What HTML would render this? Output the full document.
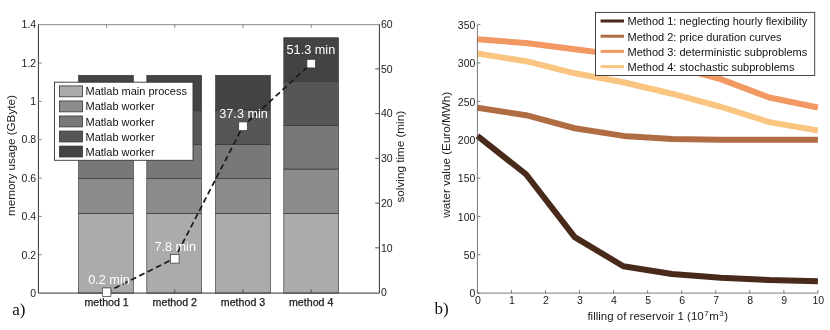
<!DOCTYPE html>
<html><head><meta charset="utf-8"><title>figure</title>
<style>html,body{margin:0;padding:0;background:#fff;}body{width:830px;height:330px;position:relative;overflow:hidden;font-family:"Liberation Sans",sans-serif;}</style></head>
<body>
<svg width="830" height="330" viewBox="0 0 830 330" style="position:absolute;left:0;top:0;will-change:transform" font-family="Liberation Sans, sans-serif">
<rect width="830" height="330" fill="#fff"/>
<rect x="78.60" y="213.35" width="54.80" height="79.75" fill="#aaacaa" stroke="#333" stroke-width="0.65"/>
<rect x="78.60" y="178.65" width="54.80" height="34.70" fill="#8b8d8b" stroke="#333" stroke-width="0.65"/>
<rect x="78.60" y="144.52" width="54.80" height="34.13" fill="#777977" stroke="#333" stroke-width="0.65"/>
<rect x="78.60" y="110.01" width="54.80" height="34.51" fill="#565656" stroke="#333" stroke-width="0.65"/>
<rect x="78.60" y="75.31" width="54.80" height="34.70" fill="#434343" stroke="#333" stroke-width="0.65"/>
<rect x="146.80" y="213.35" width="54.80" height="79.75" fill="#aaacaa" stroke="#333" stroke-width="0.65"/>
<rect x="146.80" y="178.65" width="54.80" height="34.70" fill="#8b8d8b" stroke="#333" stroke-width="0.65"/>
<rect x="146.80" y="144.52" width="54.80" height="34.13" fill="#777977" stroke="#333" stroke-width="0.65"/>
<rect x="146.80" y="110.01" width="54.80" height="34.51" fill="#565656" stroke="#333" stroke-width="0.65"/>
<rect x="146.80" y="75.31" width="54.80" height="34.70" fill="#434343" stroke="#333" stroke-width="0.65"/>
<rect x="215.60" y="213.35" width="54.80" height="79.75" fill="#aaacaa" stroke="#333" stroke-width="0.65"/>
<rect x="215.60" y="178.65" width="54.80" height="34.70" fill="#8b8d8b" stroke="#333" stroke-width="0.65"/>
<rect x="215.60" y="144.52" width="54.80" height="34.13" fill="#777977" stroke="#333" stroke-width="0.65"/>
<rect x="215.60" y="110.01" width="54.80" height="34.51" fill="#565656" stroke="#333" stroke-width="0.65"/>
<rect x="215.60" y="75.31" width="54.80" height="34.70" fill="#434343" stroke="#333" stroke-width="0.65"/>
<rect x="283.80" y="213.35" width="54.80" height="79.75" fill="#aaacaa" stroke="#333" stroke-width="0.65"/>
<rect x="283.80" y="169.06" width="54.80" height="44.29" fill="#8b8d8b" stroke="#333" stroke-width="0.65"/>
<rect x="283.80" y="125.35" width="54.80" height="43.71" fill="#777977" stroke="#333" stroke-width="0.65"/>
<rect x="283.80" y="81.45" width="54.80" height="43.90" fill="#565656" stroke="#333" stroke-width="0.65"/>
<rect x="283.80" y="37.74" width="54.80" height="43.71" fill="#434343" stroke="#333" stroke-width="0.65"/>
<line x1="38.4" x2="379.4" y1="24.7" y2="24.7" stroke="#6a6a6a" stroke-width="0.8"/>
<polyline points="38.4,24.3 38.4,293.1 379.4,293.1 379.4,24.3" fill="none" stroke="#333" stroke-width="1"/>
<text x="36.199999999999996" y="296.85" font-size="10.5" text-anchor="end" fill="#1a1a1a">0</text>
<line x1="38.4" x2="41.8" y1="254.76" y2="254.76" stroke="#666" stroke-width="0.8"/>
<text x="36.199999999999996" y="258.51" font-size="10.5" text-anchor="end" fill="#1a1a1a">0.2</text>
<line x1="38.4" x2="41.8" y1="216.41" y2="216.41" stroke="#666" stroke-width="0.8"/>
<text x="36.199999999999996" y="220.16" font-size="10.5" text-anchor="end" fill="#1a1a1a">0.4</text>
<line x1="38.4" x2="41.8" y1="178.07" y2="178.07" stroke="#666" stroke-width="0.8"/>
<text x="36.199999999999996" y="181.82" font-size="10.5" text-anchor="end" fill="#1a1a1a">0.6</text>
<line x1="38.4" x2="41.8" y1="139.73" y2="139.73" stroke="#666" stroke-width="0.8"/>
<text x="36.199999999999996" y="143.48" font-size="10.5" text-anchor="end" fill="#1a1a1a">0.8</text>
<line x1="38.4" x2="41.8" y1="101.39" y2="101.39" stroke="#666" stroke-width="0.8"/>
<text x="36.199999999999996" y="105.14" font-size="10.5" text-anchor="end" fill="#1a1a1a">1</text>
<line x1="38.4" x2="41.8" y1="63.04" y2="63.04" stroke="#666" stroke-width="0.8"/>
<text x="36.199999999999996" y="66.79" font-size="10.5" text-anchor="end" fill="#1a1a1a">1.2</text>
<text x="36.199999999999996" y="28.45" font-size="10.5" text-anchor="end" fill="#1a1a1a">1.4</text>
<text x="380.9" y="296.30" font-size="10.5" fill="#1a1a1a">0</text>
<line x1="379.4" x2="375.2" y1="247.82" y2="247.82" stroke="#444" stroke-width="0.9"/>
<text x="380.9" y="251.57" font-size="10.5" fill="#1a1a1a">10</text>
<line x1="379.4" x2="375.2" y1="203.08" y2="203.08" stroke="#444" stroke-width="0.9"/>
<text x="380.9" y="206.83" font-size="10.5" fill="#1a1a1a">20</text>
<line x1="379.4" x2="375.2" y1="158.35" y2="158.35" stroke="#444" stroke-width="0.9"/>
<text x="380.9" y="162.10" font-size="10.5" fill="#1a1a1a">30</text>
<line x1="379.4" x2="375.2" y1="113.62" y2="113.62" stroke="#444" stroke-width="0.9"/>
<text x="380.9" y="117.37" font-size="10.5" fill="#1a1a1a">40</text>
<line x1="379.4" x2="375.2" y1="68.88" y2="68.88" stroke="#444" stroke-width="0.9"/>
<text x="380.9" y="72.63" font-size="10.5" fill="#1a1a1a">50</text>
<text x="380.9" y="27.90" font-size="10.5" fill="#1a1a1a">60</text>
<line x1="106.60" x2="106.60" y1="293.1" y2="289.5" stroke="#444" stroke-width="0.9"/>
<line x1="106.60" x2="106.60" y1="24.7" y2="27.9" stroke="#666" stroke-width="0.8"/>
<text x="106.60" y="305.5" font-size="10.5" textLength="44.4" lengthAdjust="spacingAndGlyphs" stroke="#1a1a1a" stroke-width="0.25" text-anchor="middle" fill="#1a1a1a">method 1</text>
<line x1="174.80" x2="174.80" y1="293.1" y2="289.5" stroke="#444" stroke-width="0.9"/>
<line x1="174.80" x2="174.80" y1="24.7" y2="27.9" stroke="#666" stroke-width="0.8"/>
<text x="174.80" y="305.5" font-size="10.5" textLength="44.4" lengthAdjust="spacingAndGlyphs" stroke="#1a1a1a" stroke-width="0.25" text-anchor="middle" fill="#1a1a1a">method 2</text>
<line x1="243.00" x2="243.00" y1="293.1" y2="289.5" stroke="#444" stroke-width="0.9"/>
<line x1="243.00" x2="243.00" y1="24.7" y2="27.9" stroke="#666" stroke-width="0.8"/>
<text x="243.00" y="305.5" font-size="10.5" textLength="44.4" lengthAdjust="spacingAndGlyphs" stroke="#1a1a1a" stroke-width="0.25" text-anchor="middle" fill="#1a1a1a">method 3</text>
<line x1="311.20" x2="311.20" y1="293.1" y2="289.5" stroke="#444" stroke-width="0.9"/>
<line x1="311.20" x2="311.20" y1="24.7" y2="27.9" stroke="#666" stroke-width="0.8"/>
<text x="311.20" y="305.5" font-size="10.5" textLength="44.4" lengthAdjust="spacingAndGlyphs" stroke="#1a1a1a" stroke-width="0.25" text-anchor="middle" fill="#1a1a1a">method 4</text>
<text transform="translate(15.2,155.5) rotate(-90)" font-size="11.7" text-anchor="middle" fill="#1a1a1a">memory usage (GByte)</text>
<text transform="translate(404,156.7) rotate(-90)" font-size="11.7" text-anchor="middle" fill="#1a1a1a">solving time (min)</text>
<polyline points="106.60,292.21 174.80,258.21 243.00,126.24 311.20,63.62" fill="none" stroke="#1a1a1a" stroke-width="1.7" stroke-dasharray="5.8,3.5" stroke-dashoffset="0.6"/>
<rect x="102.30" y="287.91" width="8.6" height="8.6" fill="#fff" stroke="#333" stroke-width="0.7"/>
 <text x="109.00" y="284.01" font-size="12.7" text-anchor="middle" fill="#fff">0.2 min</text>
<rect x="170.50" y="254.51" width="8.6" height="8.6" fill="#fff" stroke="#333" stroke-width="0.7"/>
 <text x="175.20" y="251.11" font-size="12.7" text-anchor="middle" fill="#fff">7.8 min</text>
<rect x="238.70" y="121.94" width="8.6" height="8.6" fill="#fff" stroke="#333" stroke-width="0.7"/>
 <text x="243.60" y="117.94" font-size="12.7" text-anchor="middle" fill="#fff">37.3 min</text>
<rect x="306.90" y="59.32" width="8.6" height="8.6" fill="#fff" stroke="#333" stroke-width="0.7"/>
 <text x="310.90" y="54.12" font-size="12.7" text-anchor="middle" fill="#fff">51.3 min</text>
<rect x="54.5" y="82.2" width="138.5" height="78.1" fill="#fff" stroke="#333" stroke-width="0.9"/>
<rect x="59.5" y="85.90" width="22.9" height="10.9" fill="#aaacaa" stroke="#333" stroke-width="0.8"/>
<text x="85.5" y="95.40" font-size="11" fill="#111">Matlab main process</text>
<rect x="59.5" y="100.95" width="22.9" height="10.9" fill="#8b8d8b" stroke="#333" stroke-width="0.8"/>
<text x="85.5" y="110.45" font-size="11" fill="#111">Matlab worker</text>
<rect x="59.5" y="116.00" width="22.9" height="10.9" fill="#777977" stroke="#333" stroke-width="0.8"/>
<text x="85.5" y="125.50" font-size="11" fill="#111">Matlab worker</text>
<rect x="59.5" y="131.05" width="22.9" height="10.9" fill="#565656" stroke="#333" stroke-width="0.8"/>
<text x="85.5" y="140.55" font-size="11" fill="#111">Matlab worker</text>
<rect x="59.5" y="146.10" width="22.9" height="10.9" fill="#434343" stroke="#333" stroke-width="0.8"/>
<text x="85.5" y="155.60" font-size="11" fill="#111">Matlab worker</text>
<text x="12.3"  y="314.5" font-family="Liberation Serif, serif" font-size="17" fill="#111">a)</text>
<polyline points="477.40,53.53 526.04,61.20 574.69,73.32 623.33,82.21 671.97,93.72 720.61,106.75 769.26,122.09 817.90,130.53" fill="none" stroke="#fac580" stroke-width="6" stroke-linejoin="round"/>
<polyline points="477.40,39.27 526.04,43.10 574.69,49.24 623.33,55.37 671.97,66.11 720.61,79.15 769.26,97.55 817.90,107.52" fill="none" stroke="#f29863" stroke-width="6" stroke-linejoin="round"/>
<polyline points="477.40,107.75 526.04,115.19 574.69,128.23 623.33,135.89 671.97,138.96 720.61,139.73 769.26,139.73 817.90,139.73" fill="none" stroke="#b06d43" stroke-width="6" stroke-linejoin="round"/>
<polyline points="477.40,135.89 526.04,174.24 574.69,237.12 623.33,266.26 671.97,273.93 720.61,277.76 769.26,280.06 817.90,281.21" fill="none" stroke="#48291a" stroke-width="6" stroke-linejoin="round"/>
<polyline points="477.4,24.7 477.4,293.1 817.9,293.1" fill="none" stroke="#5c5c5c" stroke-width="0.8"/>
<line x1="477.4" x2="480.4" y1="293.10" y2="293.10" stroke="#5c5c5c" stroke-width="0.8"/>
<text x="475.4" y="297.30" font-size="10.5" text-anchor="end" fill="#1a1a1a">0</text>
<line x1="477.4" x2="480.4" y1="254.76" y2="254.76" stroke="#5c5c5c" stroke-width="0.8"/>
<text x="475.4" y="258.96" font-size="10.5" text-anchor="end" fill="#1a1a1a">50</text>
<line x1="477.4" x2="480.4" y1="216.41" y2="216.41" stroke="#5c5c5c" stroke-width="0.8"/>
<text x="475.4" y="220.61" font-size="10.5" text-anchor="end" fill="#1a1a1a">100</text>
<line x1="477.4" x2="480.4" y1="178.07" y2="178.07" stroke="#5c5c5c" stroke-width="0.8"/>
<text x="475.4" y="182.27" font-size="10.5" text-anchor="end" fill="#1a1a1a">150</text>
<line x1="477.4" x2="480.4" y1="139.73" y2="139.73" stroke="#5c5c5c" stroke-width="0.8"/>
<text x="475.4" y="143.93" font-size="10.5" text-anchor="end" fill="#1a1a1a">200</text>
<line x1="477.4" x2="480.4" y1="101.39" y2="101.39" stroke="#5c5c5c" stroke-width="0.8"/>
<text x="475.4" y="105.59" font-size="10.5" text-anchor="end" fill="#1a1a1a">250</text>
<line x1="477.4" x2="480.4" y1="63.04" y2="63.04" stroke="#5c5c5c" stroke-width="0.8"/>
<text x="475.4" y="67.24" font-size="10.5" text-anchor="end" fill="#1a1a1a">300</text>
<line x1="477.4" x2="480.4" y1="24.70" y2="24.70" stroke="#5c5c5c" stroke-width="0.8"/>
<text x="475.4" y="28.90" font-size="10.5" text-anchor="end" fill="#1a1a1a">350</text>
<line x1="477.40" x2="477.40" y1="293.1" y2="290.1" stroke="#5c5c5c" stroke-width="0.8"/>
<text x="477.80" y="304.3" font-size="10.5" text-anchor="middle" fill="#1a1a1a">0</text>
<line x1="511.45" x2="511.45" y1="293.1" y2="290.1" stroke="#5c5c5c" stroke-width="0.8"/>
<text x="511.85" y="304.3" font-size="10.5" text-anchor="middle" fill="#1a1a1a">1</text>
<line x1="545.50" x2="545.50" y1="293.1" y2="290.1" stroke="#5c5c5c" stroke-width="0.8"/>
<text x="545.90" y="304.3" font-size="10.5" text-anchor="middle" fill="#1a1a1a">2</text>
<line x1="579.55" x2="579.55" y1="293.1" y2="290.1" stroke="#5c5c5c" stroke-width="0.8"/>
<text x="579.95" y="304.3" font-size="10.5" text-anchor="middle" fill="#1a1a1a">3</text>
<line x1="613.60" x2="613.60" y1="293.1" y2="290.1" stroke="#5c5c5c" stroke-width="0.8"/>
<text x="614.00" y="304.3" font-size="10.5" text-anchor="middle" fill="#1a1a1a">4</text>
<line x1="647.65" x2="647.65" y1="293.1" y2="290.1" stroke="#5c5c5c" stroke-width="0.8"/>
<text x="648.05" y="304.3" font-size="10.5" text-anchor="middle" fill="#1a1a1a">5</text>
<line x1="681.70" x2="681.70" y1="293.1" y2="290.1" stroke="#5c5c5c" stroke-width="0.8"/>
<text x="682.10" y="304.3" font-size="10.5" text-anchor="middle" fill="#1a1a1a">6</text>
<line x1="715.75" x2="715.75" y1="293.1" y2="290.1" stroke="#5c5c5c" stroke-width="0.8"/>
<text x="716.15" y="304.3" font-size="10.5" text-anchor="middle" fill="#1a1a1a">7</text>
<line x1="749.80" x2="749.80" y1="293.1" y2="290.1" stroke="#5c5c5c" stroke-width="0.8"/>
<text x="750.20" y="304.3" font-size="10.5" text-anchor="middle" fill="#1a1a1a">8</text>
<line x1="783.85" x2="783.85" y1="293.1" y2="290.1" stroke="#5c5c5c" stroke-width="0.8"/>
<text x="784.25" y="304.3" font-size="10.5" text-anchor="middle" fill="#1a1a1a">9</text>
<line x1="817.90" x2="817.90" y1="293.1" y2="290.1" stroke="#5c5c5c" stroke-width="0.8"/>
<text x="818.30" y="304.3" font-size="10.5" text-anchor="middle" fill="#1a1a1a">10</text>
<text transform="translate(450,154.8) rotate(-90)" font-size="11.7" text-anchor="middle" fill="#1a1a1a">water value (Euro/MWh)</text>
<text x="587.4" y="320" font-size="11.5" fill="#1a1a1a">filling of reservoir 1 (10<tspan font-size="8" dy="-4.3" dx="0.5">7</tspan><tspan dy="4.3" dx="0.5">m</tspan><tspan font-size="8" dy="-4.3" dx="0.5">3</tspan><tspan dy="4.3" dx="0.4">)</tspan></text>
<rect x="595.5" y="12.4" width="219.2" height="63.1" fill="#fff" stroke="#333" stroke-width="0.9"/>
<line x1="600.6" x2="624" y1="21.00" y2="21.00" stroke="#48291a" stroke-width="3"/>
<text x="627.5" y="25.20" font-size="11" fill="#111">Method 1: neglecting hourly flexibility</text>
<line x1="600.6" x2="624" y1="36.20" y2="36.20" stroke="#b06d43" stroke-width="3"/>
<text x="627.5" y="40.50" font-size="11" fill="#111">Method 2: price duration curves</text>
<line x1="600.6" x2="624" y1="51.40" y2="51.40" stroke="#f29863" stroke-width="3"/>
<text x="627.5" y="55.80" font-size="11" fill="#111">Method 3: deterministic subproblems</text>
<line x1="600.6" x2="624" y1="66.60" y2="66.60" stroke="#fac580" stroke-width="3"/>
<text x="627.5" y="71.10" font-size="11" fill="#111">Method 4: stochastic subproblems</text>
<text x="434.6" y="314.4" font-family="Liberation Serif, serif" font-size="17" fill="#111">b)</text>
</svg>
</body></html>
